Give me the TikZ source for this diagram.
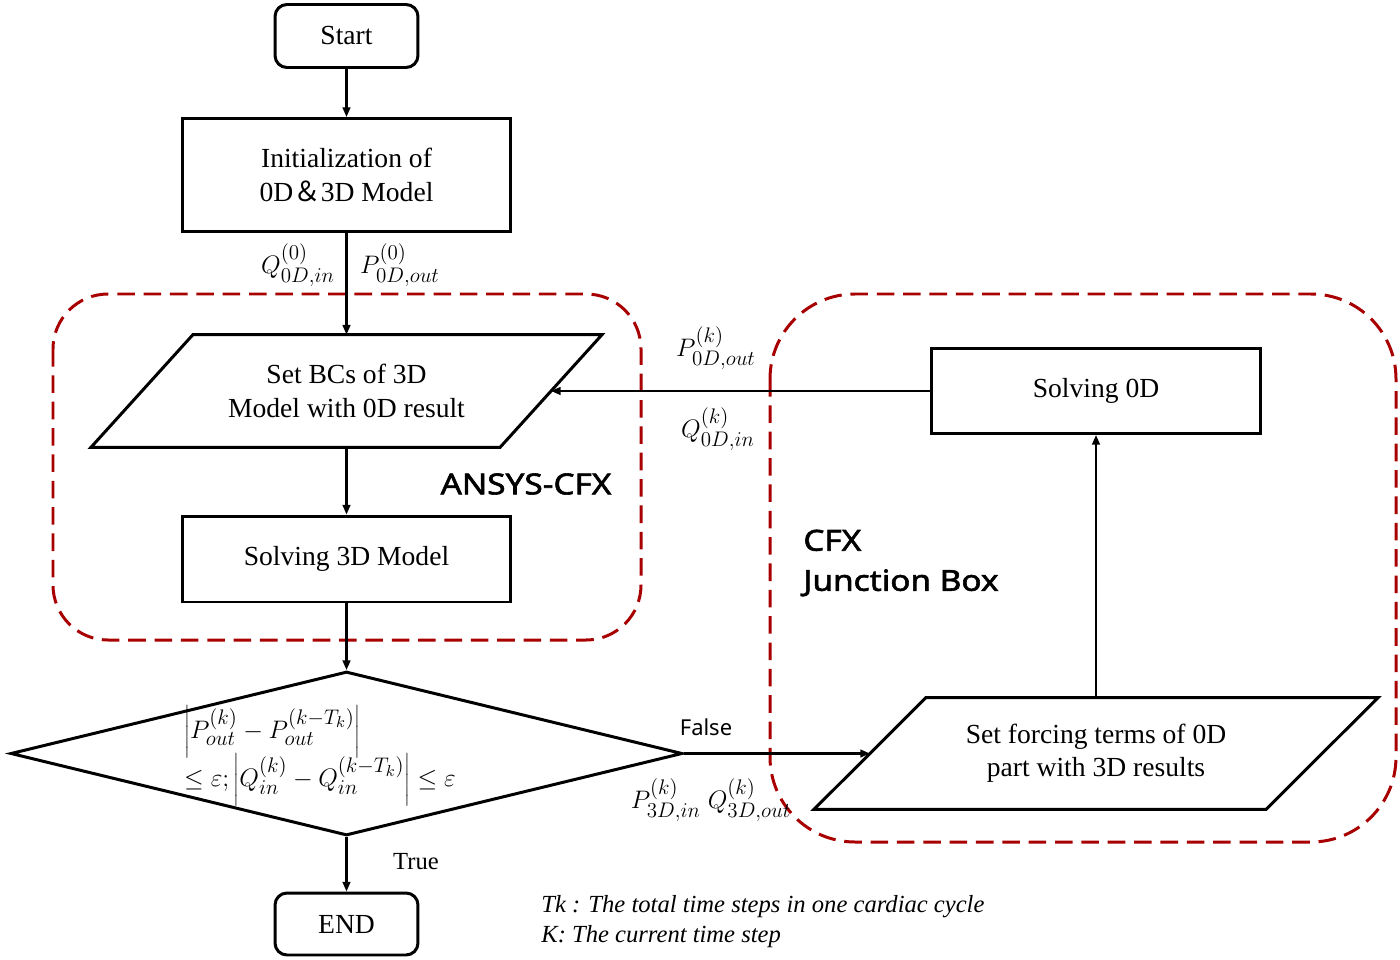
\documentclass[tikz,border=0pt]{standalone}
\usepackage{fontspec}
\setmainfont{Liberation Serif}
\newfontfamily\sansf{Noto Sans}
\newfontfamily\sansbf[FakeBold=2,FakeStretch=1.15]{Noto Sans}
\newfontfamily\cjk{Noto Sans CJK SC}
\usetikzlibrary{shapes.geometric,arrows.meta}
\definecolor{grpred}{RGB}{168,0,0}
\DeclareMathSizes{15.7}{15.7}{11.5}{9}
\newcommand\boxfs{\fontsize{15.7}{19}\selectfont}
\begin{document}
\begin{tikzpicture}[x=0.02cm,y=-0.02cm,
  box/.style={draw, line width=1.7pt, fill=white, inner sep=0pt, align=center, font=\boxfs},
  termbox/.style={box, rounded corners=0.24cm, minimum width=2.86cm, minimum height=1.26cm},
  procbox/.style={box, minimum width=6.58cm},
  iotext/.style={inner sep=0pt, align=center, font=\boxfs},
  ioline/.style={line width=1.7pt, fill=white, line join=miter},
  decbox/.style={box, diamond, minimum width=13.44cm, minimum height=3.28cm},
  arr/.style={line width=1.2pt, -{Triangle[length=5.5pt,width=4.4pt]}},
  grp/.style={draw=grpred, line width=1.7pt, dash pattern=on 10pt off 5pt},
  lbl/.style={font=\boxfs, inner sep=0pt},
  sanslbl/.style={font=\sansf\fontsize{12.5}{15}\selectfont, inner sep=0pt},
  grplbl/.style={font=\sansbf\fontsize{16.5}{22.8}\selectfont, inner sep=0pt},
  note/.style={font=\itshape\fontsize{14}{17}\selectfont, inner sep=0pt, align=left, anchor=west}
]
\useasboundingbox (0,0) rectangle (1400,960);

% group frames
\draw[grp, rounded corners=1.1cm] (53,294) rectangle (641,640);
\draw[grp, rounded corners=1.7cm] (770,294) rectangle (1396,842);

% left column
\node[termbox] (start) at (346.5,36) {Start};
\node[procbox, minimum height=2.26cm] (init) at (346.5,175) {Initialization of\\0D{\cjk ＆}3D Model};

% input/output box 1 (parallelogram drawn round its text node)
\node[iotext, minimum width=8.17cm, minimum height=2.24cm] (setbc) at (346.5,391) {};
\draw[ioline] ([xshift=1.02cm]setbc.north west) -- ([xshift=1.02cm]setbc.north east)
  -- ([xshift=-1.02cm]setbc.south east) -- ([xshift=-1.02cm]setbc.south west) -- cycle;
\node[iotext] at (setbc.center) {Set BCs of 3D\\Model with 0D result};

\node[procbox, minimum height=1.72cm] (solve3d) at (346.5,559) {Solving 3D Model};
\node[decbox] (dec) at (346.5,753.5) {};
\node[lbl, align=left, font=\fontsize{15.7}{23}\selectfont] (dectext) at (320,756)
  {$\left|P^{(k)}_{out}-P^{(k-T_k)}_{out}\right|$\\[-3.5pt]
   $\leq\varepsilon;\left|Q^{(k)}_{in}-Q^{(k-T_k)}_{in}\right|\leq\varepsilon$};
\node[termbox, minimum height=1.24cm] (endn) at (346.5,924) {END};

% right column
\node[procbox, minimum height=1.70cm] (solve0d) at (1096,391) {Solving 0D};
\node[iotext, minimum width=9.03cm, minimum height=2.22cm] (forcing) at (1096,753.5) {};
\draw[ioline] ([xshift=1.12cm]forcing.north west) -- ([xshift=1.12cm]forcing.north east)
  -- ([xshift=-1.12cm]forcing.south east) -- ([xshift=-1.12cm]forcing.south west) -- cycle;
\node[iotext] at (forcing.center) {Set forcing terms of 0D\\part with 3D results};

% connectors
\draw[arr] (start) -- (init);
\draw[arr] (init) -- (setbc);
\draw[arr] (setbc) -- (solve3d);
\draw[arr] (solve3d) -- (dec);
\draw[arr] (dec) -- (endn);
\draw[arr] (dec.east) -- (forcing.west);
\draw[arr] (forcing) -- (solve0d);
\draw[arr] (solve0d.west) -- (setbc.east);

% labels
\node[lbl] (q0) at (298,265) {$Q^{(0)}_{0D,in}$};
\node[lbl] (p0) at (400,265) {$P^{(0)}_{0D,out}$};
\node[lbl] (pk) at (716,348) {$P^{(k)}_{0D,out}$};
\node[lbl] (qk) at (718,429) {$Q^{(k)}_{0D,in}$};
\node[sanslbl] (false) at (706,727) {False};
\node[lbl] (p3d) at (711,800) {$P^{(k)}_{3D,in}\;Q^{(k)}_{3D,out}$};
\node[lbl, font=\fontsize{14}{16}\selectfont] (true) at (416,862) {True};
\node[grplbl] (ansys) at (526,484) {ANSYS-CFX};
\node[grplbl, anchor=west, align=left] (cfx) at (803,563) {CFX\\Junction Box};
\node[note] (note) at (541,922) {Tk : The total time steps in one cardiac cycle\\K: The current time step};
\end{tikzpicture}
\end{document}
